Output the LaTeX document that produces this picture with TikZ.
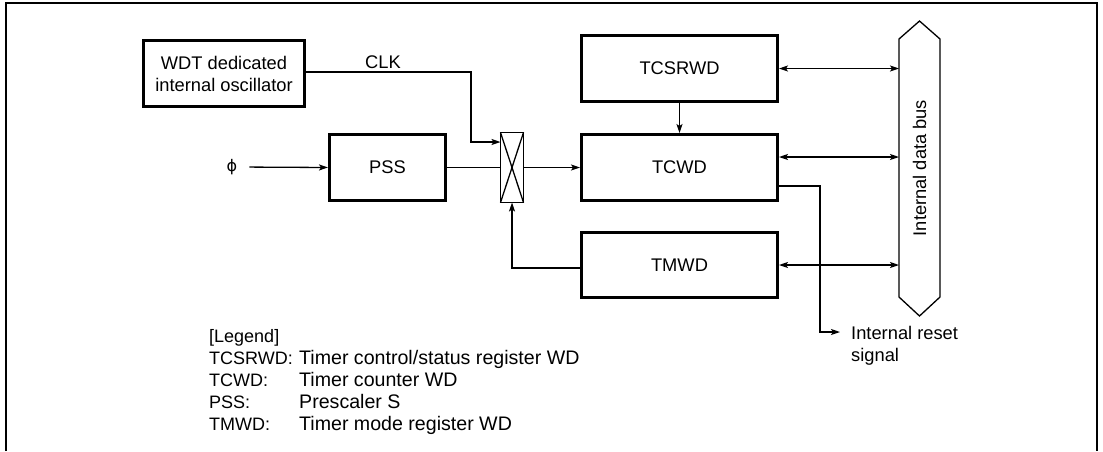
\documentclass[tikz,border=0pt]{standalone}
\usepackage{fontspec}
\usepackage{graphicx}
\setmainfont{Liberation Sans}
\newfontfamily\symfont{DejaVu Sans}
\usetikzlibrary{arrows.meta}
\begin{document}
\begin{tikzpicture}[x=1pt,y=-1pt,
  every node/.style={font=\fontsize{18.3}{22}\selectfont, inner sep=0pt},
  blk/.style={draw, line width=3pt, align=center},
  conn/.style={line width=1.3pt},
  arr/.style={conn, -{Stealth[length=9pt,width=6pt,inset=2pt]}},
  darr/.style={conn, {Stealth[length=9pt,width=6pt,inset=2pt]}-{Stealth[length=9pt,width=6pt,inset=2pt]}},
  frameline/.style={line width=2pt},
  lbl/.style={anchor=base west, font=\fontsize{18}{22}\selectfont},
  desc/.style={anchor=base west, font=\fontsize{19.6}{22}\selectfont},
]
\useasboundingbox (0,0) rectangle (1103,451);
% outer frame (bottom edge cut off)
\draw[frameline] (6,451) -- (6,3) -- (1097,3) -- (1097,451);

% blocks
\node[blk, minimum width=161pt, minimum height=66pt] (wdt) at (224,73.5) {WDT dedicated\\internal oscillator};
\node[blk, minimum width=116pt, minimum height=66pt] (pss) at (387.5,167.5) {PSS};
\node[blk, minimum width=196pt, minimum height=66pt] (tcsr) at (679.5,68.5) {TCSRWD};
\node[blk, minimum width=196pt, minimum height=66pt] (tcwd) at (679.5,167.5) {TCWD};
\node[blk, minimum width=196pt, minimum height=65pt] (tmwd) at (679.5,265) {TMWD};

% switch
\node[draw, conn, outer sep=0pt, minimum width=23pt, minimum height=70pt] (sw) at (512,167.5) {};
\draw[conn] (sw.north west) -- (sw.south east) (sw.north east) -- (sw.south west);

% internal data bus
\node[outer sep=0pt, minimum width=41pt, minimum height=258pt] (bus) at (919.5,168) {\rotatebox{90}{Internal data bus}};
\draw[conn, line join=miter] (bus.south west) -- (bus.north west) -- ([yshift=18pt]bus.north) -- (bus.north east)
  -- (bus.south east) -- ([yshift=-19pt]bus.south) -- cycle;

% labels
\node (phi) at (232,167) {\symfont\fontsize{16}{20}\selectfont ϕ};
\node (clk) at (383,62) {CLK};
\node[anchor=north west, align=left] (reset) at (851,326) {Internal reset\\signal};

% connectors
\coordinate (clkbend) at (471,72);
\draw[arr] (wdt.east |- clkbend) -- (clkbend) |- ([yshift=25.5pt]sw.west);
\draw[arr, shorten <=12pt] (phi.east) -- (pss.west);
\draw[conn] (pss.east) -- (sw.west);
\draw[arr] (sw.east) -- (tcwd.west);
\coordinate (fb) at ([yshift=-3pt]tmwd.west);
\draw[arr] (fb) -| (sw.south);
\draw[arr] (tcsr.south) -- (tcwd.north);

\draw[darr] (tcsr.east) -- (tcsr.east -| bus.west);
\coordinate (t2) at ([yshift=10.5pt]tcwd.east);
\draw[darr] (t2) -- (t2 -| bus.west);
\draw[darr] (tmwd.east) -- (tmwd.east -| bus.west);

\coordinate (r0) at ([yshift=-18.5pt]tcwd.east);
\coordinate (rend) at (840,332);
\draw[arr] (r0) -| (820,332) -- (rend);

% legend
\node[lbl] (lg0) at (209,342) {[Legend]};
\node[lbl] (lg1) at (209,364) {TCSRWD:};
\node[lbl] (lg2) at (209,386) {TCWD:};
\node[lbl] (lg3) at (209,408) {PSS:};
\node[lbl] (lg4) at (209,430) {TMWD:};
\node[desc] (ld1) at (299,364) {Timer control/status register WD};
\node[desc] (ld2) at (299,386) {Timer counter WD};
\node[desc] (ld3) at (299,408) {Prescaler S};
\node[desc] (ld4) at (299,430) {Timer mode register WD};
\end{tikzpicture}
\end{document}
